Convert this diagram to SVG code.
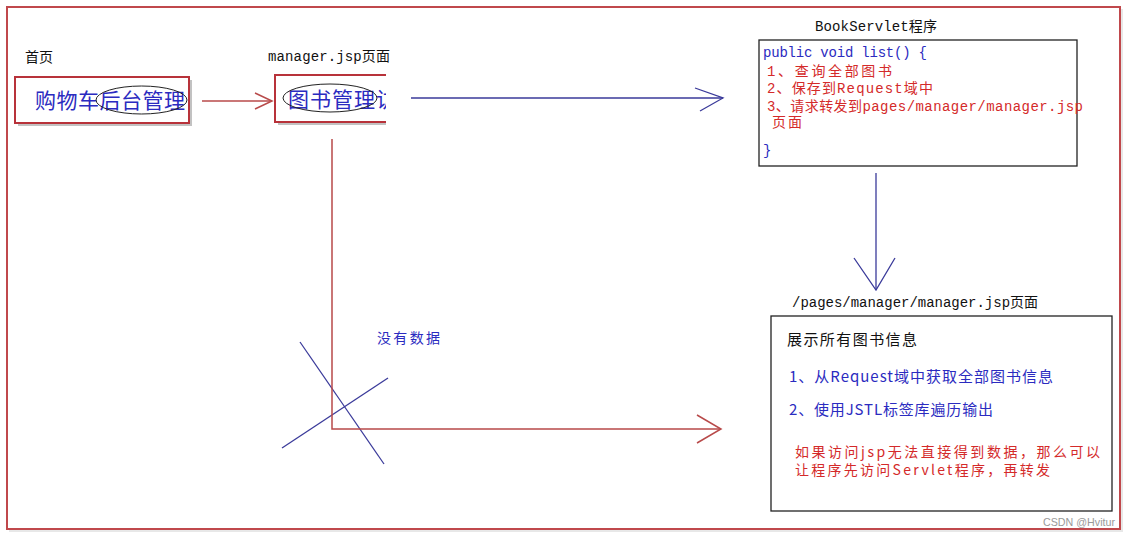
<svg xmlns="http://www.w3.org/2000/svg" width="1132" height="537" viewBox="0 0 1132 537">
<style>
.mono{font-family:"Liberation Mono","Noto Sans CJK SC",monospace;}
.cjk{font-family:"Noto Sans CJK SC","Liberation Sans",sans-serif;}
.red{fill:#d42a2a;}
.blue{fill:#2b2bc0;}
.blk{fill:#111;}
.rl{stroke:#b84a4a;stroke-width:1.5;fill:none;}
.bl{stroke:#3a3a9a;stroke-width:1.3;fill:none;}
.box{fill:#fff;stroke:#b8323a;stroke-width:2;}
.shadow{fill:#9a9a9a;opacity:0.6;}
.kbox{fill:#fff;stroke:#222;stroke-width:1.3;}
</style>
<defs>
<clipPath id="clip2"><rect x="265" y="60" width="121" height="80"/></clipPath>
</defs>
<rect width="1132" height="537" fill="#fff"/>
<g id="frame">
<rect x="9" y="9" width="1114" height="523" fill="#d8d8d8" opacity="0.6"/>
<rect x="7" y="7" width="1113" height="522" fill="#fff" stroke="#c0484c" stroke-width="2"/>
</g>
<g id="home">
<text x="25" y="62" class="mono blk" font-size="14">首页</text>
<rect x="18" y="80" width="174" height="46" class="shadow"/>
<rect x="15" y="77" width="174" height="46" class="box"/>
<text x="35" y="108" class="cjk blue" font-size="21" textLength="150" lengthAdjust="spacing">购物车后台管理</text>
<ellipse cx="141.5" cy="100" rx="45.5" ry="14" fill="none" stroke="#222" stroke-width="1"/>
</g>
<g id="manager">
<text x="268" y="61" class="mono blk" font-size="14" textLength="122" lengthAdjust="spacing">manager.jsp页面</text>
<g clip-path="url(#clip2)">
<rect x="278" y="78" width="120" height="47" class="shadow"/>
<rect x="275" y="75" width="120" height="47" class="box"/>
<text x="288" y="107" class="cjk blue" font-size="21" textLength="109" lengthAdjust="spacing">图书管理访</text>
</g>
<ellipse cx="330" cy="98" rx="47" ry="14" fill="none" stroke="#222" stroke-width="1"/>
</g>
<g id="servlet">
<text x="815" y="31" class="mono blk" font-size="14" textLength="122" lengthAdjust="spacing">BookServlet程序</text>
<rect x="759" y="40" width="318" height="126" class="kbox"/>
<text x="763" y="57" class="mono blue" font-size="14" textLength="164" lengthAdjust="spacing">public void list() {</text>
<text x="767" y="76" class="mono red" font-size="14" textLength="125" lengthAdjust="spacing">1、查询全部图书</text>
<text x="767" y="93" class="mono red" font-size="14" textLength="166" lengthAdjust="spacing">2、保存到Request域中</text>
<text x="767" y="111" class="mono red" font-size="14" textLength="316" lengthAdjust="spacing">3、请求转发到pages/manager/manager.jsp</text>
<text x="772" y="127" class="mono red" font-size="14" textLength="30" lengthAdjust="spacing">页面</text>
<text x="763" y="155" class="mono blue" font-size="14">}</text>
</g>
<g id="page">
<text x="792" y="307" class="mono blk" font-size="14" textLength="246" lengthAdjust="spacing">/pages/manager/manager.jsp页面</text>
<rect x="771" y="316" width="341" height="195" class="kbox"/>
<text x="787" y="345" class="cjk blk" font-size="15" textLength="130" lengthAdjust="spacing">展示所有图书信息</text>
<text x="789" y="382" class="cjk blue" font-size="15" textLength="264" lengthAdjust="spacing">1、从Request域中获取全部图书信息</text>
<text x="789" y="415" class="cjk blue" font-size="15" textLength="204" lengthAdjust="spacing">2、使用JSTL标签库遍历输出</text>
<text x="795" y="457" class="cjk red" font-size="14" textLength="305" lengthAdjust="spacing">如果访问jsp无法直接得到数据，那么可以</text>
<text x="795" y="475" class="cjk red" font-size="14" textLength="255" lengthAdjust="spacing">让程序先访问Servlet程序，再转发</text>
</g>
<g id="nodata">
<text x="377" y="343" class="cjk blue" font-size="14" textLength="63" lengthAdjust="spacing">没有数据</text>
<line x1="300" y1="342" x2="384" y2="464" class="bl"/>
<line x1="282" y1="448" x2="388" y2="378" class="bl"/>
</g>
<g id="connectors">
<line x1="202" y1="101" x2="272" y2="101" class="rl"/>
<polyline points="255,93 272,101 255,109" class="rl"/>
<line x1="411" y1="98" x2="723" y2="98" class="bl"/>
<polyline points="695,88 723,98 700,111" class="bl"/>
<line x1="876" y1="173" x2="876" y2="289" class="bl"/>
<polyline points="854,258 876,290 895,258" class="bl"/>
<polyline points="332,139 332,429 721,429" class="rl"/>
<polyline points="697,415 721,429 697,443" class="rl"/>
</g>
<text x="1043" y="526" font-family="Liberation Sans, sans-serif" font-size="11" fill="#999" textLength="72" lengthAdjust="spacingAndGlyphs">CSDN @Hvitur</text>
</svg>
